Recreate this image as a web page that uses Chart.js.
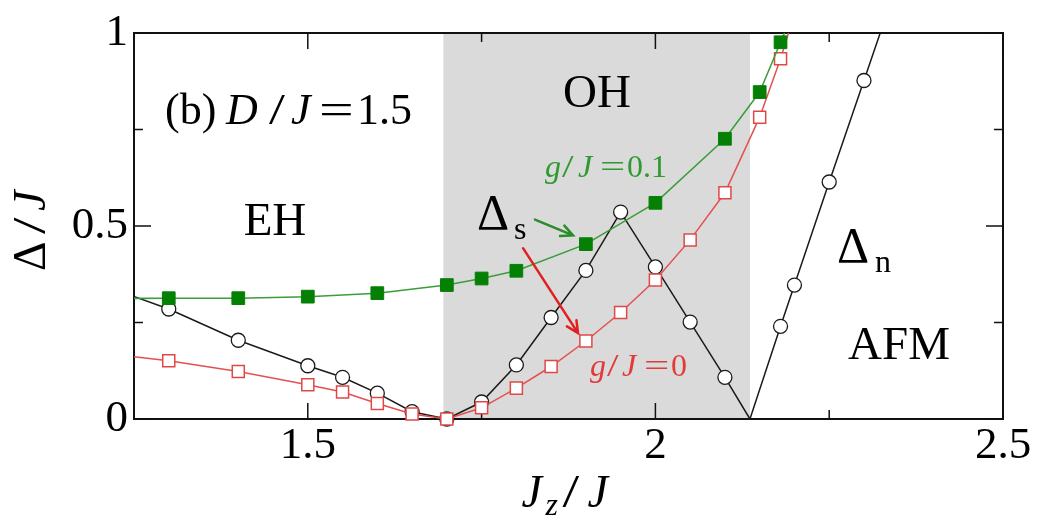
<!DOCTYPE html>
<html>
<head>
<meta charset="utf-8">
<script src="https://cdn.jsdelivr.net/npm/chart.js@4.4.1/dist/chart.umd.min.js"></script>
<style>
  html, body { margin: 0; padding: 0; background: #fff; }
  #wrap { width: 1037px; height: 521px; position: relative; }
</style>
</head>
<body>
<div id="wrap"><canvas id="gapChart"></canvas></div>
<script>
// Excitation gaps versus Jz/J at D/J = 1.5 (panel b)

const xTicks = [1.5, 2, 2.5];
const xTickLabels = ['1.5', '2', '2.5'];
const xMinorTicks = [1.75, 2.25];
const yTicks = [0, 0.5, 1];
const yTickLabels = ['0', '0.5', '1'];
const yMinorTicks = [0.25, 0.75];

// shaded OH window
const ohStart = 1.695;
const ohEnd = 2.136;

// g/J = 0.1, filled squares
const g01X = [1.2, 1.3, 1.4, 1.5, 1.6, 1.7, 1.75, 1.8, 1.9, 2.0, 2.1, 2.15, 2.18, 2.2];
const g01Y = [0.312, 0.313, 0.313, 0.317, 0.326, 0.347, 0.364, 0.384, 0.453, 0.56, 0.726, 0.847, 0.976, 1.06];

// g/J = 0, open squares
const g0X = [1.2, 1.3, 1.4, 1.5, 1.55, 1.6, 1.65, 1.7, 1.75, 1.8, 1.85, 1.9, 1.95, 2.0, 2.05, 2.1, 2.15, 2.18, 2.2];
const g0Y = [0.171, 0.151, 0.123, 0.089, 0.07, 0.04, 0.013, 0.0, 0.029, 0.08, 0.136, 0.202, 0.276, 0.36, 0.464, 0.586, 0.782, 0.933, 1.05];

// Delta_s, open circles (last point is the closing vertex, no marker)
const deltaSX = [1.2, 1.3, 1.4, 1.5, 1.55, 1.6, 1.65, 1.7, 1.75, 1.8, 1.85, 1.9, 1.95, 2.0, 2.05, 2.1, 2.136];
const deltaSY = [0.35, 0.285, 0.204, 0.138, 0.108, 0.067, 0.019, 0.0, 0.044, 0.14, 0.263, 0.385, 0.536, 0.394, 0.251, 0.108, 0.0];

// Delta_n, open circles (first point is the vertex, no marker)
const deltaNX = [2.136, 2.18, 2.2, 2.25, 2.3, 2.35];
const deltaNY = [0.0, 0.24, 0.347, 0.614, 0.877, 1.14];

const SERIF = '"Liberation Serif", "DejaVu Serif", serif';
const pts = (xs, ys) => xs.map((x, i) => ({ x: x, y: ys[i] }));

// text pieces: [text, dx, dy, size, italic, stretch]
function rich(ctx, ox, oy, parts, color) {
    ctx.fillStyle = color;
    ctx.textAlign = 'left';
    ctx.textBaseline = 'alphabetic';
    parts.forEach(([text, dx, dy, size, italic, sx]) => {
        ctx.font = (italic ? 'italic ' : '') + size + 'px ' + SERIF;
        ctx.save();
        ctx.translate(ox + dx, oy + dy);
        ctx.scale(sx || 1, 1);
        ctx.fillText(text, 0, 0);
        ctx.restore();
    });
}

function arrow(ctx, x0, y0, x1, y1, color) {
    const ang = Math.atan2(y1 - y0, x1 - x0);
    const head = 13;
    ctx.strokeStyle = color;
    ctx.lineWidth = 2.5;
    ctx.lineCap = 'round';
    ctx.beginPath();
    ctx.moveTo(x0, y0);
    ctx.lineTo(x1, y1);
    ctx.moveTo(x1 - head * Math.cos(ang - 0.45), y1 - head * Math.sin(ang - 0.45));
    ctx.lineTo(x1, y1);
    ctx.lineTo(x1 - head * Math.cos(ang + 0.45), y1 - head * Math.sin(ang + 0.45));
    ctx.stroke();
}

const decor = {
    id: 'decor',
    beforeDatasetsDraw(chart) {
        const { ctx, chartArea: a, scales: { x, y } } = chart;
        ctx.save();
        // OH shading
        const s0 = x.getPixelForValue(ohStart), s1 = x.getPixelForValue(ohEnd);
        ctx.fillStyle = '#dadada';
        ctx.fillRect(s0, a.top, s1 - s0, a.bottom - a.top);

        // frame
        ctx.strokeStyle = '#111';
        ctx.lineWidth = 2;
        ctx.strokeRect(a.left, a.top, a.right - a.left, a.bottom - a.top);

        // inward ticks on all sides
        ctx.lineWidth = 1.5;
        ctx.beginPath();
        const xt = (v, len) => {
            const p = x.getPixelForValue(v);
            ctx.moveTo(p, a.bottom); ctx.lineTo(p, a.bottom - len);
            ctx.moveTo(p, a.top); ctx.lineTo(p, a.top + len);
        };
        const yt = (v, len) => {
            const p = y.getPixelForValue(v);
            ctx.moveTo(a.left, p); ctx.lineTo(a.left + len, p);
            ctx.moveTo(a.right, p); ctx.lineTo(a.right - len, p);
        };
        xTicks.forEach(v => xt(v, 16));
        xMinorTicks.forEach(v => xt(v, 9));
        yTicks.forEach(v => yt(v, 17));
        yMinorTicks.forEach(v => yt(v, 9));
        ctx.stroke();
        ctx.restore();
    },
    afterDatasetsDraw(chart) {
        const { ctx, chartArea: a, scales: { x, y } } = chart;
        const X = v => x.getPixelForValue(v), Y = v => y.getPixelForValue(v);
        ctx.save();

        rich(ctx, X(1.2946), Y(0.7647), [
            ['(b)', 0, 0, 44, false], ['D', 61, 0, 44, true], ['/', 104, 0, 44, false, 1.3],
            ['J', 126, 0, 44, true], ['=', 154, 0, 44, false, 1.4], ['1.5', 192, 0, 44, false]
        ], '#000');

        ctx.font = '47px ' + SERIF;
        ctx.fillStyle = '#000';
        ctx.textAlign = 'center';
        ctx.fillText('EH', X(1.4528), Y(0.4757));
        ctx.fillText('OH', X(1.916), Y(0.808));
        ctx.fillText('AFM', X(2.3504), Y(0.156));

        rich(ctx, X(1.8412), Y(0.6266), [
            ['g', 0, 0, 32, true], ['/', 17, 0, 32, false, 1.3], ['J', 33, 0, 32, true],
            ['=', 55, 0, 32, false, 1.4], ['0.1', 82, 0, 32, false]
        ], '#2f9a2f');
        rich(ctx, X(1.906), Y(0.1125), [
            ['g', 0, 0, 32, true], ['/', 17, 0, 32, false, 1.3], ['J', 32, 0, 32, true],
            ['=', 54, 0, 32, false, 1.4], ['0', 81, 0, 32, false]
        ], '#e23a3a');

        rich(ctx, X(1.7434), Y(0.491), [['\u0394', 0, 0, 50, false], ['s', 37, 10, 32, false]], '#000');
        rich(ctx, X(2.2612), Y(0.4066), [['\u0394', 0, 0, 50, false], ['n', 38, 10, 32, false]], '#000');

        arrow(ctx, X(1.8268), Y(0.5166), X(1.8815), Y(0.4757), '#2a8c2a');
        arrow(ctx, X(1.8096), Y(0.4425), X(1.8887), Y(0.2225), '#e02020');

        // axis titles
        const midX = (a.left + a.right) / 2;
        rich(ctx, midX - 47, a.bottom + 88, [
            ['J', 0, 0, 46, true], ['z', 24, 8, 32, true], ['/', 41, 0, 46, false, 1.3], ['J', 66, 0, 46, true]
        ], '#000');
        const midY = (a.top + a.bottom) / 2;
        ctx.translate(a.left - 89, midY + 45);
        ctx.rotate(-Math.PI / 2);
        rich(ctx, 0, 0, [['\u0394', 0, 0, 46, false], ['/', 37, 0, 46, false, 1.3], ['J', 60, 0, 46, true]], '#000');
        ctx.restore();
    }
};

const clipBox = { left: 0, top: 0, right: 0, bottom: 10 };
const tickFont = { family: SERIF, size: 45 };

new Chart(document.getElementById('gapChart'), {
    type: 'line',
    data: {
        datasets: [{
            label: 'g/J=0.1',
            data: pts(g01X, g01Y),
            borderColor: '#3a9d3a',
            borderWidth: 1.5,
            pointStyle: 'rect',
            pointRadius: 9,
            pointBackgroundColor: '#058005',
            pointBorderColor: '#058005',
            pointBorderWidth: 1,
            clip: clipBox
        }, {
            label: 'g/J=0',
            data: pts(g0X, g0Y),
            borderColor: '#e45050',
            borderWidth: 1.5,
            pointStyle: 'rect',
            pointRadius: 8.5,
            pointBackgroundColor: '#fff',
            pointBorderColor: '#e04848',
            pointBorderWidth: 1.5,
            clip: clipBox
        }, {
            label: 'Delta_s',
            data: pts(deltaSX, deltaSY),
            borderColor: '#1a1a1a',
            borderWidth: 1.5,
            pointStyle: 'circle',
            pointRadius: c => c.dataIndex === deltaSX.length - 1 ? 0 : 7,
            pointBackgroundColor: '#fff',
            pointBorderColor: '#1a1a1a',
            pointBorderWidth: 1.3,
            clip: clipBox
        }, {
            label: 'Delta_n',
            data: pts(deltaNX, deltaNY),
            borderColor: '#1a1a1a',
            borderWidth: 1.5,
            pointStyle: 'circle',
            pointRadius: c => c.dataIndex === 0 ? 0 : 7,
            pointBackgroundColor: '#fff',
            pointBorderColor: '#1a1a1a',
            pointBorderWidth: 1.3,
            clip: clipBox
        }]
    },
    options: {
        responsive: true,
        maintainAspectRatio: false,
        animation: false,
        layout: { padding: { top: 28, right: 34, left: 0, bottom: 0 } },
        plugins: { legend: { display: false }, tooltip: { enabled: false } },
        scales: {
            x: {
                type: 'linear',
                min: 1.25,
                max: 2.5,
                afterBuildTicks: s => { s.ticks = xTicks.map(v => ({ value: v })); },
                afterFit: s => { s.height = 102; },
                grid: { display: false, drawTicks: false },
                border: { display: false },
                ticks: {
                    callback: (v, i) => xTickLabels[i],
                    font: tickFont, color: '#000', padding: 0,
                    maxRotation: 0, autoSkip: false
                }
            },
            y: {
                type: 'linear',
                min: 0,
                max: 1,
                afterBuildTicks: s => { s.ticks = yTicks.map(v => ({ value: v })); },
                afterFit: s => { s.width = 134; },
                grid: { display: false, drawTicks: false },
                border: { display: false },
                ticks: {
                    callback: (v, i) => yTickLabels[i],
                    font: tickFont, color: '#000', padding: 6, autoSkip: false
                }
            }
        }
    },
    plugins: [decor]
});
</script>
</body>
</html>
